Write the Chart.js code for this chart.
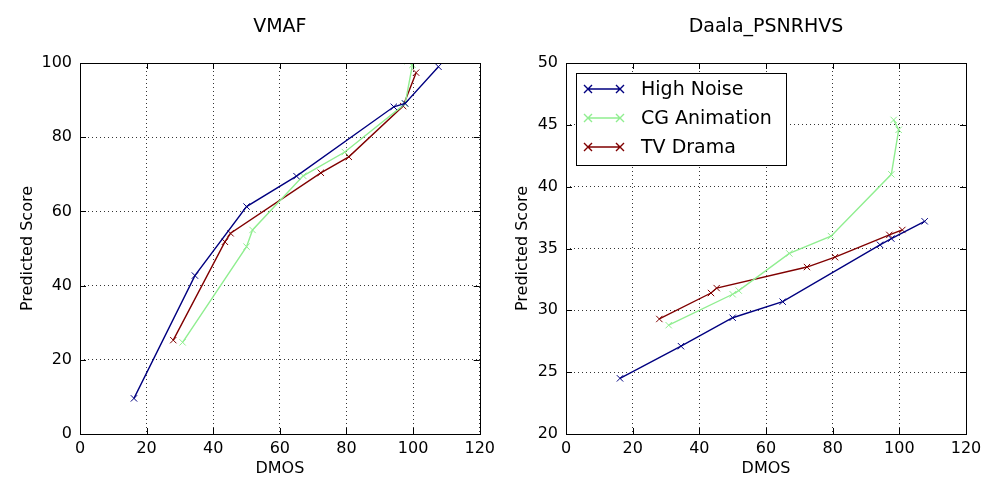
<!DOCTYPE html>
<html lang="en">
<head>
<meta charset="utf-8">
<title>VMAF vs Daala_PSNRHVS</title>
<script src="https://cdn.jsdelivr.net/npm/chart.js@4.4.0/dist/chart.umd.min.js"></script>
<style>
  body { margin:0; background:#fff; }
  .box { position:absolute; top:0; width:500px; height:500px; }
</style>
</head>
<body>
<div class="box" style="left:0"><canvas id="vmaf"></canvas></div>
<div class="box" style="left:500px"><canvas id="daala"></canvas></div>
<script>
// series names and colours
var names = ["High Noise", "CG Animation", "TV Drama"];
var colors = ["#000080", "#90ee90", "#800000"];

// DMOS per series (kept in plotted order)
var dmosHigh = [16.2, 34.5, 50.0, 65.0, 94.2, 97.6, 107.6];
var dmosCG   = [30.8, 50.0, 51.8, 67.0, 79.5, 97.6, 99.8, 98.3];
var dmosTV   = [28.0, 43.5, 45.2, 72.3, 80.7, 97.0, 100.9];

// VMAF predicted scores
var vmafHigh = [9.6, 42.7, 61.3, 69.5, 88.2, 89.1, 99.0];
var vmafCG   = [24.7, 50.5, 55.0, 69.6, 76.0, 89.0, 99.5, 100.5];
var vmafTV   = [25.3, 51.8, 54.1, 70.4, 74.7, 88.4, 97.4];

// Daala PSNRHVS predicted scores
var psnrHigh = [24.5, 27.1, 29.4, 30.7, 35.3, 35.8, 37.2];
var psnrCG   = [28.8, 31.3, 31.6, 34.6, 36.0, 41.0, 44.6, 45.4];
var psnrTV   = [29.3, 31.4, 31.8, 33.5, 34.3, 36.1, 36.5];

var FONT = "'DejaVu Sans', sans-serif";

function pts(xs, ys) {
  return xs.map(function (x, i) { return { x: x, y: ys[i] }; });
}

function sets(ys) {
  var xs = [dmosHigh, dmosCG, dmosTV];
  return ys.map(function (y, i) {
    return {
      label: names[i],
      data: pts(xs[i], y),
      showLine: true,
      borderColor: colors[i],
      backgroundColor: colors[i],
      borderWidth: 1.4,
      pointStyle: "crossRot",
      pointRadius: 4.5,
      pointBorderWidth: 1,
      pointHoverRadius: 4.5
    };
  });
}

// title centred over the plot area, like matplotlib
var plotTitle = {
  id: "plotTitle",
  afterDraw: function (chart, args, opts) {
    var a = chart.chartArea, c = chart.ctx;
    c.save();
    c.fillStyle = "#000";
    c.font = "19px " + FONT;
    c.textAlign = "center";
    c.textBaseline = "middle";
    c.fillText(opts.text, (a.left + a.right) / 2, 27);
    c.restore();
  }
};

// black frame + inward tick marks
var frame = {
  id: "frame",
  afterDatasetsDraw: function (chart) {
    var a = chart.chartArea, c = chart.ctx, L = 6;
    c.save();
    c.strokeStyle = "#000";
    c.lineWidth = 1;
    c.beginPath();
    chart.scales.x.ticks.forEach(function (t) {
      var px = Math.round(chart.scales.x.getPixelForValue(t.value)) + 0.5;
      c.moveTo(px, a.bottom); c.lineTo(px, a.bottom - L);
      c.moveTo(px, a.top); c.lineTo(px, a.top + L);
    });
    chart.scales.y.ticks.forEach(function (t) {
      var py = Math.round(chart.scales.y.getPixelForValue(t.value)) + 0.5;
      c.moveTo(a.left, py); c.lineTo(a.left + L, py);
      c.moveTo(a.right, py); c.lineTo(a.right - L, py);
    });
    c.stroke();
    c.strokeRect(Math.round(a.left) + 0.5, Math.round(a.top) + 0.5,
                 Math.round(a.right - a.left), Math.round(a.bottom - a.top));
    c.restore();
  }
};

// legend drawn inside the plot area
var boxLegend = {
  id: "boxLegend",
  afterDraw: function (chart, args, opts) {
    if (!opts.show) return;
    var a = chart.chartArea, c = chart.ctx;
    var x0 = a.left + 10, y0 = a.top + 10, w = 210, h = 92;
    c.save();
    c.fillStyle = "#fff";
    c.fillRect(x0, y0, w, h);
    c.strokeStyle = "#000";
    c.lineWidth = 1;
    c.strokeRect(x0 + 0.5, y0 + 0.5, w, h);
    c.font = "19px " + FONT;
    c.textBaseline = "middle";
    chart.data.datasets.forEach(function (ds, i) {
      var y = y0 + 16 + i * 29;
      c.strokeStyle = ds.borderColor;
      c.lineWidth = 1.4;
      c.beginPath();
      c.moveTo(x0 + 12, y); c.lineTo(x0 + 44, y);
      [x0 + 12, x0 + 44].forEach(function (mx) {
        c.moveTo(mx - 4, y - 4); c.lineTo(mx + 4, y + 4);
        c.moveTo(mx - 4, y + 4); c.lineTo(mx + 4, y - 4);
      });
      c.stroke();
      c.fillStyle = "#000";
      c.fillText(ds.label, x0 + 65, y + 1);
    });
    c.restore();
  }
};

function makeChart(id, title, ys, ymin, ymax, ystep, yWidth, yTitlePad, padRight, legend) {
  return new Chart(document.getElementById(id), {
    type: "scatter",
    data: { datasets: sets(ys) },
    plugins: [frame, boxLegend, plotTitle],
    options: {
      responsive: true,
      maintainAspectRatio: false,
      animation: false,
      layout: { padding: { right: padRight, left: 0, top: 63, bottom: 0 } },
      plugins: {
        legend: { display: false },
        tooltip: { enabled: false },
        title: { display: false },
        plotTitle: { text: title },
        boxLegend: { show: legend }
      },
      scales: {
        x: {
          type: "linear", min: 0, max: 120,
          ticks: { stepSize: 20, color: "#000", padding: 5, maxRotation: 0,
                   font: { family: FONT, size: 16 } },
          grid: { color: "#000", lineWidth: 0.8, drawTicks: false },
          border: { display: false, dash: [1, 3] },
          title: { display: true, text: "DMOS", color: "#000",
                   font: { family: FONT, size: 16 }, padding: { top: 0, bottom: 22 } },
          afterFit: function (s) { s.height = 66; }
        },
        y: {
          type: "linear", min: ymin, max: ymax,
          ticks: { stepSize: ystep, color: "#000", padding: 8,
                   font: { family: FONT, size: 16 } },
          grid: { color: "#000", lineWidth: 0.8, drawTicks: false },
          border: { display: false, dash: [1, 3] },
          title: { display: true, text: "Predicted Score", color: "#000",
                   font: { family: FONT, size: 16 }, padding: { top: yTitlePad, bottom: 0 } },
          afterFit: function (s) { s.width = yWidth; }
        }
      }
    }
  });
}

makeChart("vmaf", "VMAF", [vmafHigh, vmafCG, vmafTV], 0, 100, 20, 80, 18, 20, false);
makeChart("daala", "Daala_PSNRHVS", [psnrHigh, psnrCG, psnrTV], 20, 50, 5, 66, 13, 34, true);
</script>
</body>
</html>
